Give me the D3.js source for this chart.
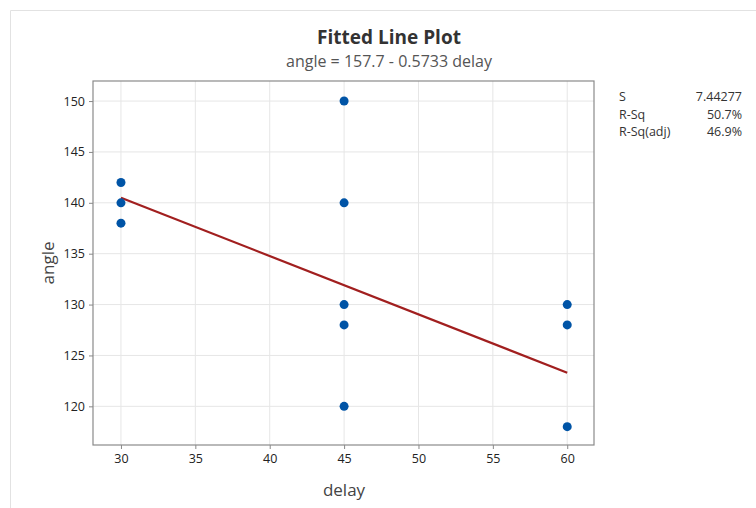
<!DOCTYPE html>
<html>
<head>
<meta charset="utf-8">
<script src="https://cdn.jsdelivr.net/npm/d3@7"></script>
<style>
  body { margin: 0; background: #fff; }
  text { font-family: "Open Sans", "Noto Sans", sans-serif; }
</style>
</head>
<body>
<div id="chart"></div>
<script>
// data
const delay = [30, 30, 30, 45, 45, 45, 45, 45, 60, 60, 60];
const angle = [142, 140, 138, 150, 140, 130, 128, 120, 130, 128, 118];
const fitIntercept = 157.7;
const fitSlope = -0.5733;
const xTicks = [30, 35, 40, 45, 50, 55, 60];
const yTicks = [120, 125, 130, 135, 140, 145, 150];
const statLabels = ["S", "R-Sq", "R-Sq(adj)"];
const statValues = ["7.44277", "50.7%", "46.9%"];

const width = 756, height = 508;
const margin = { top: 81, right: 162, bottom: 63, left: 93 };
const innerW = width - margin.left - margin.right;
const innerH = height - margin.top - margin.bottom;

const svg = d3.select("#chart").append("svg")
    .attr("width", width).attr("height", height);

// outer panel border
svg.append("path")
    .attr("d", `M10.5,${height} V10.5 H${width}`)
    .attr("fill", "none").attr("stroke", "#e2e2e2").attr("stroke-width", 1);

const x = d3.scaleLinear().domain([28.12, 61.8]).range([0, innerW]);
const y = d3.scaleLinear().domain([116.2, 151.97]).range([innerH, 0]);

const g = svg.append("g").attr("transform", `translate(${margin.left},${margin.top})`);

// gridlines
g.selectAll(".vgrid").data(xTicks).join("line")
    .attr("x1", d => x(d)).attr("x2", d => x(d))
    .attr("y1", 0).attr("y2", innerH)
    .attr("stroke", "#e6e6e6");
g.selectAll(".hgrid").data(yTicks).join("line")
    .attr("x1", 0).attr("x2", innerW)
    .attr("y1", d => y(d)).attr("y2", d => y(d))
    .attr("stroke", "#e6e6e6");

// axes
const xAxis = g.append("g").attr("transform", `translate(0,${innerH})`)
    .call(d3.axisBottom(x).tickValues(xTicks).tickSize(4).tickPadding(5));
const yAxis = g.append("g")
    .call(d3.axisLeft(y).tickValues(yTicks).tickSize(4).tickPadding(4));
[xAxis, yAxis].forEach(a => {
  a.select(".domain").remove();
  a.selectAll("line").attr("stroke", "#888");
  a.selectAll("text").attr("fill", "#222").style("font-size", "12.5px");
});

// frame
g.append("rect").attr("width", innerW).attr("height", innerH)
    .attr("fill", "none").attr("stroke", "#8a8a8a").attr("stroke-width", 1.2);

// fitted line
const xs = d3.extent(delay);
g.append("line")
    .attr("x1", x(xs[0])).attr("y1", y(fitIntercept + fitSlope * xs[0]))
    .attr("x2", x(xs[1])).attr("y2", y(fitIntercept + fitSlope * xs[1]))
    .attr("stroke", "#a11f1f").attr("stroke-width", 2.2);

// points
g.selectAll(".pt").data(delay).join("circle")
    .attr("cx", d => x(d)).attr("cy", (d, i) => y(angle[i]))
    .attr("r", 4.5).attr("fill", "#0054a6");

// titles
svg.append("text").attr("x", 389).attr("y", 44).attr("text-anchor", "middle")
    .style("font-size", "19px").style("font-weight", "bold").attr("fill", "#333")
    .text("Fitted Line Plot");
svg.append("text").attr("x", 389).attr("y", 67).attr("text-anchor", "middle")
    .style("font-size", "16px").attr("fill", "#555")
    .text("angle = 157.7 - 0.5733 delay");

// axis labels
svg.append("text").attr("x", 344).attr("y", 496).attr("text-anchor", "middle")
    .style("font-size", "17px").attr("fill", "#444").text("delay");
svg.append("text").attr("transform", "translate(54,263) rotate(-90)")
    .attr("text-anchor", "middle")
    .style("font-size", "17px").attr("fill", "#444").text("angle");

// stats table
const stats = svg.append("g");
stats.selectAll(".sl").data(statLabels).join("text")
    .attr("x", 619).attr("y", (d, i) => 101 + i * 17.5)
    .style("font-size", "12.5px").attr("fill", "#333").text(d => d);
stats.selectAll(".sv").data(statValues).join("text")
    .attr("x", 742).attr("y", (d, i) => 101 + i * 17.5)
    .attr("text-anchor", "end")
    .style("font-size", "12.5px").attr("fill", "#333").text(d => d);
</script>
</body>
</html>
